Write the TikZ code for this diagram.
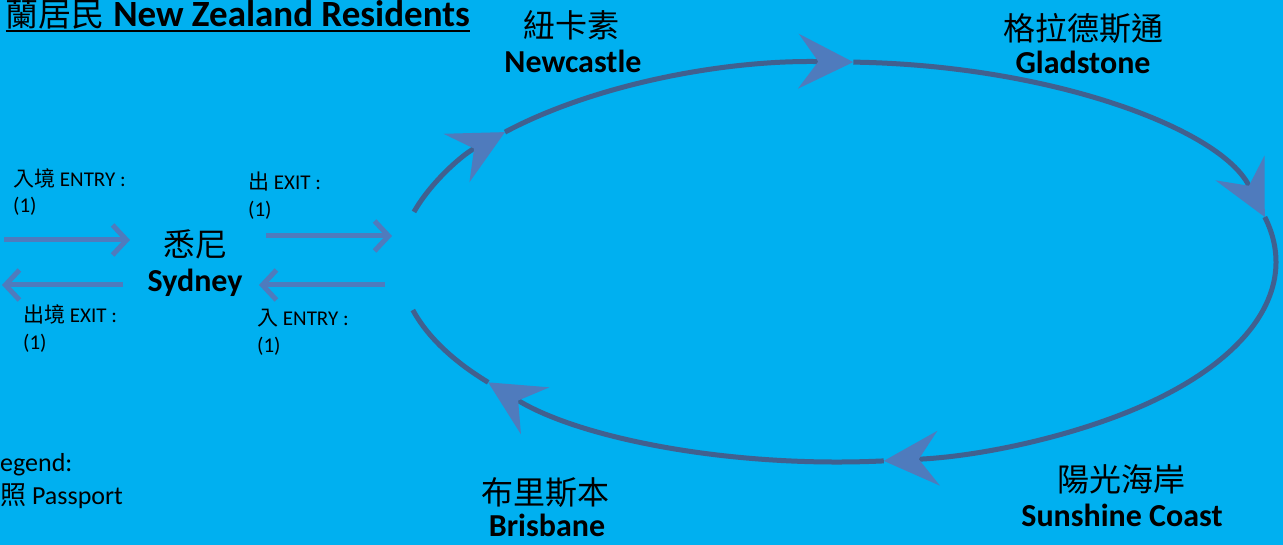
\documentclass[tikz,border=0pt]{standalone}
\usepackage{fontspec}
\setmainfont{Carlito}
\newfontfamily\cjk{Noto Sans CJK TC}
\usetikzlibrary{arrows.meta,calc}
\definecolor{bgcol}{HTML}{00B0F0}
\definecolor{loopcol}{HTML}{41608F}
\definecolor{tipcol}{HTML}{4F7BBD}
\begin{document}
\begin{tikzpicture}[x=1pt,y=1pt,
  citycn/.style={font=\cjk\fontsize{32}{32}\selectfont, inner sep=0pt, anchor=base},
  cityen/.style={font=\fontsize{32}{32}\selectfont\bfseries, inner sep=0pt, anchor=base},
  lbl/.style={font=\fontsize{21}{26}\selectfont, inner sep=0pt, anchor=base west},
  legend/.style={font=\fontsize{26}{30}\selectfont, inner sep=0pt, anchor=base west},
  loopline/.style={draw=loopcol, line width=5pt},
  looptip/.style={-{Stealth[length=55pt,width=55pt,inset=20pt,color=tipcol,line width=0pt]}},
  flow/.style={draw=tipcol, line width=5pt, -{Straight Barb[length=14pt,width=30pt]}}
]
\fill[bgcol] (0,0) rectangle (1283,545);
\useasboundingbox (0,0) rectangle (1283,545);

% title
\node[anchor=base east, inner sep=0pt, font=\fontsize{37}{37}\selectfont] (title) at (470,518)
  {{\cjk\fontsize{33}{33}\selectfont 蘭居民} \textbf{New Zealand Residents}};
\draw[line width=2pt] ([yshift=-4pt]title.base west) -- ([yshift=-4pt]title.base east);

% cities
\node[citycn] (ncCN) at (571,507) {紐卡素};
\node[cityen] (ncEN) at (573,472) {Newcastle};
\node[citycn] (glCN) at (1083,504) {格拉德斯通};
\node[cityen] (glEN) at (1083,471) {Gladstone};
\node[citycn] (scCN) at (1121,53) {陽光海岸};
\node[cityen] (scEN) at (1122,18) {Sunshine Coast};
\node[citycn] (brCN) at (545,40) {布里斯本};
\node[cityen] (brEN) at (547,8) {Brisbane};
\node[citycn] (syCN) at (195,288) {悉尼};
\node[cityen] (syEN) at (195,253) {Sydney};

% labels
\node[lbl] (l1a) at (13,358) {{\cjk 入境} ENTRY :};
\node[lbl] (l1b) at (13,332) {(1)};
\node[lbl] (l2a) at (248,355) {{\cjk 出} EXIT :};
\node[lbl] (l2b) at (248,328) {(1)};
\node[lbl] (l3a) at (23,222) {{\cjk 出境} EXIT :};
\node[lbl] (l3b) at (23,195) {(1)};
\node[lbl] (l4a) at (257,219) {{\cjk 入} ENTRY :};
\node[lbl] (l4b) at (257,192) {(1)};

% legend
\node[legend] (lg1) at (0,73) {egend:};
\node[legend] (lg2) at (0,40) {{\cjk 照} Passport};

% straight arrows
\coordinate (a1s) at (4,305);   \coordinate (a1e) at (130,305);
\coordinate (a2s) at (123,260); \coordinate (a2e) at (2,260);
\coordinate (a3s) at (266,309); \coordinate (a3e) at (392,309);
\coordinate (a4s) at (385,260); \coordinate (a4e) at (259,260);
\draw[flow] (a1s) -- (a1e);
\draw[flow] (a2s) -- (a2e);
\draw[flow] (a3s) -- (a3e);
\draw[flow] (a4s) -- (a4e);

% loop
\coordinate (c) at (838,283);
\coordinate (loopA) at ($(c)+(165.5:438 and 200)$);
\coordinate (loopB) at ($(c)+(-166.1:438 and 200)$);
\draw[loopline,looptip] (loopA) arc[start angle=165.5, end angle=139.5, x radius=438, y radius=200];
\draw[loopline,looptip] ($(c)+(139.5:438 and 200)$) arc[start angle=139.5, end angle=88, x radius=438, y radius=200];
\draw[loopline,looptip] ($(c)+(88:438 and 200)$) arc[start angle=88, end angle=13, x radius=438, y radius=200];
\draw[loopline,looptip] ($(c)+(13:438 and 200)$) arc[start angle=13, end angle=-84, x radius=438, y radius=200];
\draw[loopline,looptip] ($(c)+(-84:438 and 200)$) arc[start angle=-84, end angle=-143, x radius=438, y radius=200];
\draw[loopline] ($(c)+(-143:438 and 200)$) arc[start angle=-143, end angle=-166.1, x radius=438, y radius=200];
\end{tikzpicture}
\end{document}
